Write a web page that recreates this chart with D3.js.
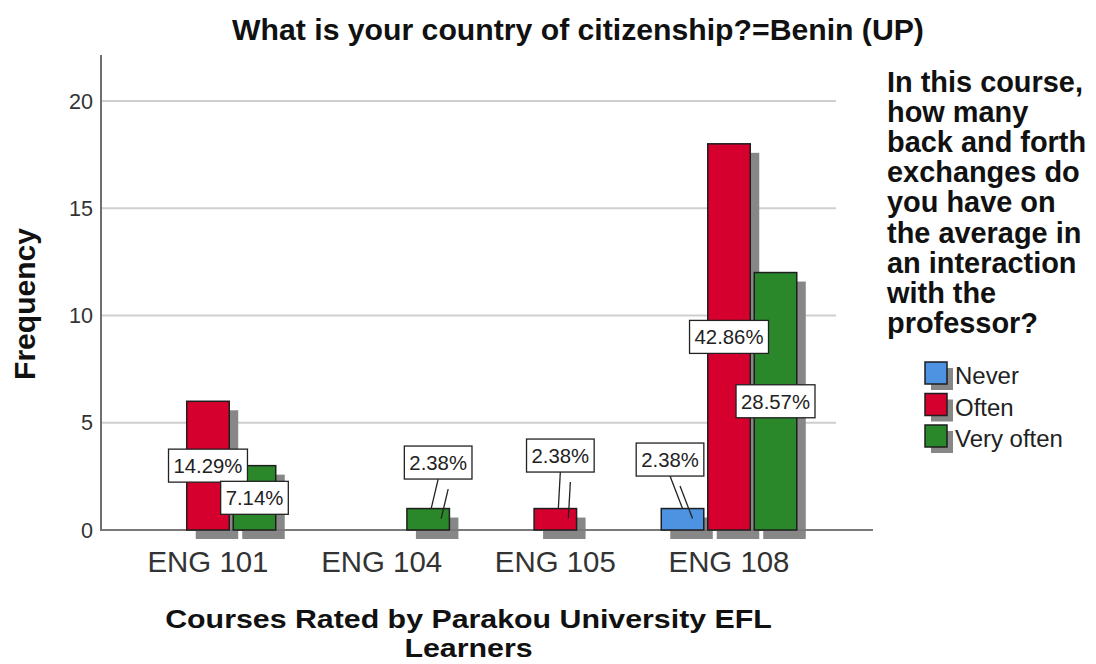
<!DOCTYPE html>
<html><head><meta charset="utf-8">
<script src="https://cdn.jsdelivr.net/npm/d3@7"></script>
<style>html,body{margin:0;padding:0;background:#fff;} svg{display:block;font-family:"Liberation Sans",Arial,sans-serif;}</style>
</head><body>
<svg id="chart" width="1096" height="664"></svg>
<script>
// ---- data ----
const courses = ["ENG 101", "ENG 104", "ENG 105", "ENG 108"];
const seriesNames = ["Never", "Often", "Very often"];
const neverVals = [0, 0, 0, 1];
const oftenVals = [6, 0, 1, 18];
const veryOftenVals = [3, 1, 0, 12];
const yTicks = [0, 5, 10, 15, 20];
const titleText = "What is your country of citizenship?=Benin (UP)";
const xTitleLines = ["Courses Rated by Parakou University EFL", "Learners"];
const yTitle = "Frequency";
const legendTitleLines = ["In this course,", "how many", "back and forth", "exchanges do", "you have on", "the average in", "an interaction", "with the", "professor?"];
const colors = ["#4d93e2", "#d6002e", "#2a882b"];

// ---- layout ----
const svg = d3.select("#chart");
const plotLeft = 101, plotRight = 836, baseY = 530, topY = 55;
const seriesVals = [neverVals, oftenVals, veryOftenVals];
const total = d3.sum(seriesVals.flat());

const x = d3.scaleBand().domain(courses).range([plotLeft, plotRight]).paddingInner(0).paddingOuter(0.116);
const xs = d3.scaleBand().domain(seriesNames).range([-67.75, 67.75]).paddingInner(0.086);
const y = d3.scaleLinear().domain([0, 22.14]).range([baseY, topY]);

function fit(sel, target) {
  const n = sel.node();
  const fs = parseFloat(sel.attr("font-size"));
  const w = n.getComputedTextLength();
  sel.attr("font-size", (fs * target / w).toFixed(2));
  return fs * target / w;
}

// gridlines
svg.append("g").selectAll("line").data(yTicks.filter(d => d > 0)).join("line")
  .attr("x1", plotLeft).attr("x2", plotRight)
  .attr("y1", d => y(d)).attr("y2", d => y(d))
  .attr("stroke", "#cfcfcf").attr("stroke-width", 2);

// bars data
const bars = [];
courses.forEach((c, i) => seriesNames.forEach((s, j) => {
  const v = seriesVals[j][i];
  if (v > 0) bars.push({course: c, series: s, j, v});
}));

const sh = 9;
// shadows
svg.append("g").selectAll("rect").data(bars).join("rect")
  .attr("x", d => x(d.course) + x.bandwidth() / 2 + xs(d.series) + sh)
  .attr("y", d => y(d.v) + sh)
  .attr("width", xs.bandwidth())
  .attr("height", d => baseY - y(d.v))
  .attr("fill", "#878787");

// axes lines
svg.append("line").attr("x1", plotLeft).attr("x2", plotLeft).attr("y1", topY).attr("y2", baseY + 1)
  .attr("stroke", "#6e6e6e").attr("stroke-width", 2);
svg.append("line").attr("x1", plotLeft).attr("x2", 873).attr("y1", baseY).attr("y2", baseY)
  .attr("stroke", "#7a7a7a").attr("stroke-width", 2);

// bars
svg.append("g").selectAll("rect").data(bars).join("rect")
  .attr("x", d => x(d.course) + x.bandwidth() / 2 + xs(d.series))
  .attr("y", d => y(d.v))
  .attr("width", xs.bandwidth())
  .attr("height", d => baseY - y(d.v))
  .attr("fill", d => colors[d.j])
  .attr("stroke", "#1e1e1e").attr("stroke-width", 1.5);

// y tick labels
const yt = svg.append("g").selectAll("text").data(yTicks).join("text")
  .attr("x", 93).attr("y", d => y(d)).attr("dy", "0.36em")
  .attr("text-anchor", "end").attr("font-size", 20).attr("fill", "#333")
  .text(d => d);
const ytfs = fit(d3.select(yt.nodes()[4]), 24);
yt.attr("font-size", ytfs.toFixed(2));

// x tick labels
const xt = svg.append("g").selectAll("text").data(courses).join("text")
  .attr("x", d => x(d) + x.bandwidth() / 2).attr("y", 572)
  .attr("text-anchor", "middle").attr("font-size", 26).attr("fill", "#333")
  .text(d => d);
const xtfs = fit(d3.select(xt.nodes()[0]), 121);
xt.attr("font-size", xtfs.toFixed(2));

// title
fit(svg.append("text").attr("x", 578).attr("y", 40).attr("text-anchor", "middle")
  .attr("font-size", 24).attr("font-weight", "bold").attr("fill", "#111").text(titleText), 692);

// y title
fit(svg.append("text").attr("transform", `translate(35,304) rotate(-90)`).attr("text-anchor", "middle")
  .attr("font-size", 28).attr("font-weight", "bold").attr("fill", "#111").text(yTitle), 152);

// x title (horizontally stretched like the reference)
const xcx = (plotLeft + plotRight) / 2;
const xTitle = svg.append("g").attr("transform", `translate(${xcx},0)`);
const xl1 = xTitle.append("text").attr("x", 0).attr("y", 628).attr("text-anchor", "middle")
  .attr("font-size", 25).attr("font-weight", "bold").attr("fill", "#111").text(xTitleLines[0]);
const w1 = xl1.node().getComputedTextLength();
const sx = 607 / w1;
xl1.attr("transform", `scale(${sx},1)`);
xTitle.append("text").attr("x", 0).attr("y", 657).attr("text-anchor", "middle")
  .attr("transform", `scale(${sx},1)`)
  .attr("font-size", 25).attr("font-weight", "bold").attr("fill", "#111").text(xTitleLines[1]);

// legend title
const lt = svg.append("g").selectAll("text").data(legendTitleLines).join("text")
  .attr("x", 887).attr("y", (d, i) => 92 + i * 30.1)
  .attr("font-size", 24).attr("font-weight", "bold").attr("fill", "#111").text(d => d);
const ltf = fit(d3.select(lt.nodes()[0]), 196);
lt.attr("font-size", ltf.toFixed(2));

// legend items
const lg = svg.append("g").selectAll("g").data(seriesNames).join("g")
  .attr("transform", (d, i) => `translate(925,${362 + i * 31.5})`);
lg.append("rect").attr("x", 6).attr("y", 6).attr("width", 22).attr("height", 22).attr("fill", "#878787");
lg.append("rect").attr("width", 22).attr("height", 22).attr("fill", (d, i) => colors[i])
  .attr("stroke", "#1e1e1e").attr("stroke-width", 1.5);
const li = lg.append("text").attr("x", 30).attr("y", 22).attr("font-size", 22).attr("fill", "#222").text(d => d);
const lif = fit(d3.select(li.nodes()[2]), 108);
li.attr("font-size", lif.toFixed(2));

// percent labels
const fmt = v => (v / total * 100).toFixed(2) + "%";
const boxH = 33;
// placement nudges for labels of short bars (label sits above with leader line)
const nudge = {"ENG 104|Very often": [10, -46], "ENG 105|Often": [5, -53], "ENG 108|Never": [-12.5, -49]};
const lab = svg.append("g");
let pfs = 20;
bars.forEach(d => {
  const bx = x(d.course) + x.bandwidth() / 2 + xs(d.series) + xs.bandwidth() / 2;
  const top = y(d.v);
  const key = d.course + "|" + d.series;
  const small = (baseY - top) < boxH;
  const n = nudge[key] || [0, 0];
  const cx = small ? bx + n[0] : bx;
  const cy = small ? top + n[1] : (top + baseY) / 2;
  const g = lab.append("g");
  if (small) {
    const ex = bx + (n[0] > 0 ? 3 : 0);
    g.append("line").attr("x1", cx).attr("y1", cy + boxH / 2).attr("x2", ex).attr("y2", top)
      .attr("stroke", "#222").attr("stroke-width", 1.3);
    g.append("line").attr("x1", cx + 10).attr("y1", cy + boxH / 2 + 10).attr("x2", ex + 10).attr("y2", top + 10)
      .attr("stroke", "#222").attr("stroke-width", 1.3);
  }
  const rect = g.append("rect").attr("fill", "#fff").attr("stroke", "#222").attr("stroke-width", 1.3);
  const t = g.append("text").attr("x", cx).attr("y", cy).attr("dy", "0.36em").attr("text-anchor", "middle")
    .attr("font-size", pfs).attr("fill", "#222").text(fmt(d.v));
  if (fmt(d.v) === "14.29%") { pfs = fit(t, 69); }
  t.attr("font-size", pfs.toFixed(2));
  const tw = t.node().getComputedTextLength();
  rect.attr("x", cx - tw / 2 - 5).attr("y", cy - boxH / 2).attr("width", tw + 10).attr("height", boxH);
});
</script>
</body></html>
